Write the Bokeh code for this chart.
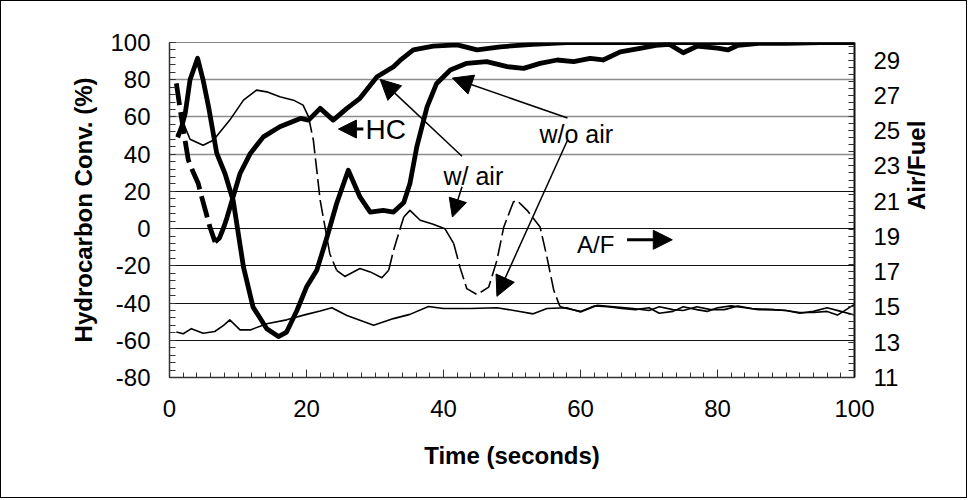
from bokeh.plotting import figure
from bokeh.models import (Range1d, LinearAxis, SingleIntervalTicker, FixedTicker, Grid,
                          Arrow, NormalHead, Label, ColumnDataSource, PrintfTickFormatter)
from bokeh.embed import file_html
from bokeh.resources import INLINE
import math

# ---------------- data ----------------
TIME_HC_AIR = [1, 1.5, 2.2, 2.75, 3.5, 4.2, 4.7, 5.3, 5.9, 6.65, 7.3, 7.9, 8.4, 9.2, 10.3,
               11.8, 13.7, 16.1, 19.1, 20.3, 22, 23.9, 25.9, 27.8, 30.3, 32.7, 33.7, 35.6,
               38.5, 42, 44.9, 48.3, 53, 58, 65, 75, 85, 100]
HC_AIR = [78, 65.5, 49, 36.8, 30, 24.2, 17, 9, 0.9, -7.2, -5, 0.5, 6, 16, 29.6,
          40.4, 49.3, 54.7, 59.2, 58.3, 64.6, 58.3, 64.6, 70, 81.6, 87, 90.5, 96,
          98.1, 98.7, 96, 97.7, 99, 100, 100, 100, 100, 100]

TIME_HC_NOAIR = [1.2, 1.8, 2.3, 3.0, 4.1, 4.9, 5.7, 6.9, 8.1, 9.3, 10.8, 12.2, 14.2, 15.9, 17.1,
                 18.6, 20, 21.5, 23, 24.4, 26.1, 27.8, 29.3, 31.2, 32.7, 34.2, 35.1, 36.1,
                 37.6, 39, 41, 43.4, 46.3, 49.3, 51.7, 54.1, 56.6, 59, 61.4, 63.3, 65.8,
                 68.7, 71, 73, 75, 77, 80, 81.5, 83, 86, 90, 95, 100]
HC_NOAIR = [49, 55, 62, 80, 91.5, 80, 65.5, 40.4, 29.6, 15, -20.7, -42.2, -53.8, -58, -55.6,
            -44, -31.4, -22.4, -4.5, 13.5, 31.4, 17, 8.9, 9.8, 8.9, 14, 24.2, 43.9,
            65.4, 78, 85.2, 88.8, 89.7, 87, 86.1, 88.8, 90.6, 89.7, 91.5, 90.6, 95,
            96.9, 98.5, 99, 94.5, 98, 97, 96, 98.5, 99.5, 99.5, 100, 100]

TIME_AF_AIR = [1, 2, 3, 4.9, 6.4, 8.8, 10.8, 12.7, 14.2, 16.1, 18.1, 19.5, 20.3, 21, 22,
               23.4, 24.4, 25.6, 27.8, 29.3, 31, 32, 32.7, 34.2, 35.1, 36.6, 38.5, 40.2,
               41.5, 42.4, 43.4, 44.9, 46.6, 47.8, 48.8, 50.2, 50.7, 52.2, 54.1, 55.1,
               56.1, 57, 58, 60, 62, 64, 66, 68, 70, 71.5, 73.5, 75, 77, 78.5, 80, 82,
               84, 86, 88, 90, 92, 94, 96, 98, 100]
AF_AIR = [24.72, 25.46, 24.51, 24.17, 24.46, 25.60, 26.73, 27.30, 27.20, 26.92, 26.73, 26.45,
          25.78, 24.46, 21.05, 18.02, 17.08, 16.73, 17.18, 16.99, 16.66, 17.08, 18.21, 20.10,
          20.48, 19.92, 19.69, 19.44, 18.59, 17.26, 16.04, 15.70, 16.13, 17.65, 19.54, 20.95,
          21.05, 20.48, 19.54, 17.83, 15.94, 15.03, 14.91, 14.75, 15.06, 15.01, 14.91, 14.85,
          14.96, 14.64, 14.75, 15.01, 14.85, 14.75, 14.96, 15.06, 14.96, 14.85, 14.85, 14.80,
          14.64, 14.75, 14.96, 14.75, 14.54]

TIME_AF_NOAIR = [1, 2, 3.2, 4.9, 6.6, 7.9, 8.8, 10.3, 11.8, 14.2, 17.1, 20, 22, 23.7, 25.9,
                 29.8, 32.7, 35.1, 37.8, 40, 43.9, 47.8, 50.7, 53.1, 55.1, 58, 60, 62.4,
                 65.3, 67.7, 70, 71.5, 73.5, 75, 77, 79, 81, 83, 85, 88, 90, 92, 94, 96,
                 97.5, 100]
AF_NOAIR = [13.58, 13.48, 13.77, 13.51, 13.61, 13.96, 14.27, 13.70, 13.70, 14.05, 14.27, 14.58,
            14.77, 14.96, 14.52, 13.96, 14.34, 14.58, 15.03, 14.91, 14.91, 14.96, 14.77, 14.61,
            14.91, 14.96, 14.72, 15.09, 14.99, 14.91, 14.80, 15.01, 14.85, 14.80, 15.01, 14.85,
            14.85, 15.06, 14.91, 14.85, 14.80, 14.69, 14.69, 14.75, 14.54, 15.15]

LEFT_TICK_INTERVAL = 20
BOTTOM_TICK_INTERVAL = 20
RIGHT_TICKS = [11, 13, 15, 17, 19, 21, 23, 25, 27, 29]

# ---------------- styling helpers ----------------
FONT = "Liberation Sans"
HC_AIR_DASHED = [(0, 6.7)]
AF_AIR_DASHED = [(20.3, 24.4), (32.0, 34.5), (41.5, 57.2)]
GRID_LIGHT = [40, 60, 80, 100]
GRID_DARK = [-60, -40, -20, 0, 20]


def runs(xs, ys, spans):
    out = []
    cur_x, cur_y, cur_d = [xs[0]], [ys[0]], None
    for i in range(len(xs) - 1):
        mid = 0.5 * (xs[i] + xs[i + 1])
        d = any(a <= mid <= b for a, b in spans)
        if cur_d is None:
            cur_d = d
        if d != cur_d:
            out.append((cur_x, cur_y, cur_d))
            cur_x, cur_y, cur_d = [xs[i]], [ys[i]], d
        cur_x.append(xs[i + 1])
        cur_y.append(ys[i + 1])
    out.append((cur_x, cur_y, cur_d))
    return out


p = figure(width=967, height=498, x_range=Range1d(0, 100), y_range=Range1d(-80, 100),
           output_backend="svg", toolbar_location=None,
           min_border_left=168, min_border_right=114, min_border_top=41, min_border_bottom=122,
           background_fill_color="white", border_fill_color="white")
p.styles = {"border": "1px solid black"}
p.outline_line_color = "#888888"
p.outline_line_width = 1
p.extra_y_ranges = {"af": Range1d(11, 30)}

yt = SingleIntervalTicker(interval=LEFT_TICK_INTERVAL, num_minor_ticks=5)
xt = SingleIntervalTicker(interval=BOTTOM_TICK_INTERVAL, num_minor_ticks=10)
p.yaxis.ticker = yt
p.xaxis.ticker = xt
p.yaxis.formatter = PrintfTickFormatter(format="%d")
p.xaxis.formatter = PrintfTickFormatter(format="%d")
p.xgrid.grid_line_color = None
p.ygrid.grid_line_color = None
p.add_layout(Grid(dimension=1, ticker=FixedTicker(ticks=GRID_LIGHT),
                  grid_line_color="#8c8c8c", grid_line_width=1.3))
p.add_layout(Grid(dimension=1, ticker=FixedTicker(ticks=GRID_DARK),
                  grid_line_color="#111111", grid_line_width=1.1))

for ax in (p.xaxis[0], p.yaxis[0]):
    ax.axis_line_color = "#333333"
    ax.axis_line_width = 1.5
    ax.major_tick_line_color = "#333333"
    ax.minor_tick_line_color = "#333333"
    ax.major_tick_out = 0
    ax.minor_tick_out = 0
    ax.major_label_text_font = FONT
    ax.major_label_text_font_size = "24px"
    ax.major_label_text_color = "black"
    ax.axis_label_text_font = FONT
    ax.axis_label_text_font_style = "bold"
    ax.axis_label_text_font_size = "24px"
    ax.axis_label_text_color = "black"

p.yaxis.major_tick_in = 6
p.yaxis.minor_tick_in = 6
p.yaxis.major_label_standoff = 19
p.yaxis.axis_label = "Hydrocarbon Conv. (%)"
p.yaxis.axis_label_standoff = 10

p.xaxis.major_tick_in = 8
p.xaxis.minor_tick_in = 5
p.xaxis.major_label_standoff = 22
p.xaxis.axis_label = "Time (seconds)"
p.xaxis.axis_label_standoff = 22

minor_r = [round(11 + 0.4 * k, 2) for k in range(0, 48)]
raxis = LinearAxis(y_range_name="af", ticker=FixedTicker(ticks=RIGHT_TICKS, minor_ticks=minor_r))
raxis.axis_line_color = "#111111"
raxis.axis_line_width = 2
raxis.major_tick_line_color = "#333333"
raxis.minor_tick_line_color = "#333333"
raxis.major_tick_out = 0
raxis.minor_tick_out = 0
raxis.major_tick_in = 6
raxis.minor_tick_in = 6
raxis.major_label_standoff = 19
raxis.major_label_text_font = FONT
raxis.major_label_text_font_size = "24px"
raxis.major_label_text_color = "black"
raxis.axis_label = "Air/Fuel"
raxis.axis_label_orientation = math.pi / 2
raxis.axis_label_standoff = 13
raxis.axis_label_text_font = FONT
raxis.axis_label_text_font_style = "bold"
raxis.axis_label_text_font_size = "24px"
raxis.axis_label_text_color = "black"
p.add_layout(raxis, "right")

# ---------------- series ----------------
for xs, ys, d in runs(TIME_HC_AIR, HC_AIR, HC_AIR_DASHED):
    kw = dict(line_dash="22 7") if d else {}
    p.line(x="x", y="y", source=ColumnDataSource(dict(x=xs, y=ys)), line_color="black",
           line_width=4.8, line_join="round", **kw)

p.line(x="x", y="y", source=ColumnDataSource(dict(x=TIME_HC_NOAIR, y=HC_NOAIR)),
       line_color="black", line_width=4.8, line_join="round")

for xs, ys, d in runs(TIME_AF_AIR, AF_AIR, AF_AIR_DASHED):
    kw = dict(line_dash="16 5") if d else {}
    p.line(x="x", y="y", source=ColumnDataSource(dict(x=xs, y=ys)), y_range_name="af",
           line_color="black", line_width=1.6, line_join="round", **kw)

p.line(x="x", y="y", source=ColumnDataSource(dict(x=TIME_AF_NOAIR, y=AF_NOAIR)),
       y_range_name="af", line_color="black", line_width=1.6, line_join="round")

# ---------------- annotations ----------------
def arrow(x0, y0, x1, y1, w, size):
    p.add_layout(Arrow(x_start=x0, y_start=y0, x_end=x1, y_end=y1, line_width=w,
                       line_color="black",
                       end=NormalHead(size=size, fill_color="black", line_color="black",
                                      line_width=1)))


def label(x, y, text, size):
    p.add_layout(Label(x=x, y=y, text=text, text_align="left", text_baseline="middle",
                       text_font=FONT, text_font_size=size, text_color="black"))


arrow(28.3, 53.5, 24.66, 53.5, 3, 18)
label(28.6, 53.5, "HC", "28px")

label(40.0, 28.5, "w/ air", "25px")
arrow(42.7, 38.9, 30.75, 80.2, 1.5, 20)
arrow(42.7, 22.5, 41.3, 6.2, 1.5, 18)

label(54.0, 51.0, "w/o air", "25px")
arrow(58.1, 59.4, 41.3, 80.9, 1.5, 20)
arrow(58.1, 47.5, 47.8, -36.4, 1.5, 20)

label(59.5, -8.5, "A/F", "24px")
arrow(66.8, -6.0, 73.4, -6.0, 3, 19)

open("out.html", "w").write(file_html(p, INLINE))
